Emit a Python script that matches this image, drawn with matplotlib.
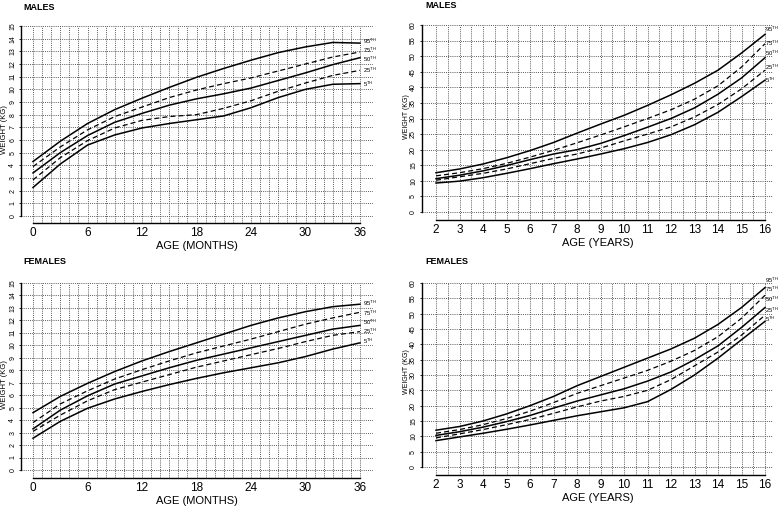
import matplotlib.pyplot as plt
import numpy as np

plt.rcParams['font.family'] = ['Liberation Sans', 'DejaVu Sans']
plt.rcParams['mathtext.fontset'] = 'custom'
plt.rcParams['mathtext.rm'] = 'Liberation Sans'

# ages
months = [0, 3, 6, 9, 12, 15, 18, 21, 24, 27, 30, 33, 36]
years = [2, 3, 4, 5, 6, 7, 8, 9, 10, 11, 12, 13, 14, 15, 16]
pct_labels = ['95', '75', '50', '25', '5']

# males, 0-36 months (kg)
m_inf_95 = [4.3, 5.9, 7.3, 8.4, 9.3, 10.15, 10.95, 11.65, 12.3, 12.9, 13.35, 13.7, 13.65]
m_inf_75 = [3.9, 5.45, 6.8, 7.85, 8.6, 9.35, 9.95, 10.45, 10.9, 11.45, 12.0, 12.55, 12.95]
m_inf_50 = [3.4, 5.0, 6.35, 7.4, 8.1, 8.75, 9.25, 9.65, 10.1, 10.7, 11.3, 11.95, 12.5]
m_inf_25 = [2.85, 4.6, 5.95, 6.95, 7.55, 7.85, 8.0, 8.5, 9.1, 9.85, 10.5, 11.1, 11.5]
m_inf_5 = [2.25, 4.1, 5.6, 6.4, 6.95, 7.3, 7.6, 7.9, 8.55, 9.35, 10.0, 10.4, 10.45]
m_inf_lab = [13.76, 13.08, 12.35, 11.5, 10.4]

# males, 2-16 years (kg)
m_ch_95 = [12.6, 13.8, 15.4, 17.4, 19.7, 22.3, 25.3, 28.2, 31.0, 34.2, 37.6, 41.3, 45.5, 51.0, 57.0]
m_ch_75 = [11.6, 12.6, 13.9, 15.6, 17.6, 19.8, 22.2, 24.7, 27.3, 30.0, 32.8, 36.2, 40.5, 46.5, 54.0]
m_ch_50 = [10.7, 11.8, 13.2, 14.9, 16.8, 18.6, 20.0, 22.0, 24.5, 27.2, 30.0, 33.4, 37.8, 43.0, 49.5]
m_ch_25 = [10.2, 11.3, 12.4, 13.8, 15.5, 17.2, 18.6, 20.5, 22.8, 25.0, 27.3, 30.5, 34.5, 39.5, 45.5]
m_ch_5 = [9.3, 9.9, 11.0, 12.4, 13.9, 15.5, 17.0, 18.6, 20.3, 22.3, 24.8, 28.0, 32.0, 37.0, 42.3]
m_ch_lab = [58.6, 54.2, 51.0, 46.5, 42.2]

# females, 0-36 months (kg)
f_inf_95 = [4.6, 5.9, 6.95, 7.9, 8.75, 9.5, 10.2, 10.9, 11.6, 12.2, 12.7, 13.1, 13.3]
f_inf_75 = [3.8, 5.3, 6.35, 7.3, 8.05, 8.75, 9.4, 9.95, 10.5, 11.1, 11.7, 12.2, 12.65]
f_inf_50 = [3.3, 4.8, 5.95, 6.9, 7.55, 8.2, 8.8, 9.3, 9.8, 10.3, 10.8, 11.3, 11.6]
f_inf_25 = [3.1, 4.4, 5.55, 6.45, 7.05, 7.65, 8.25, 8.75, 9.25, 9.75, 10.3, 10.8, 11.1]
f_inf_5 = [2.55, 3.9, 4.95, 5.7, 6.3, 6.85, 7.35, 7.8, 8.2, 8.6, 9.1, 9.7, 10.2]
f_inf_lab = [13.4, 12.6, 11.85, 11.15, 10.3]

# females, 2-16 years (kg)
f_ch_95 = [12.0, 13.2, 15.0, 17.3, 20.0, 23.0, 26.5, 29.5, 32.5, 35.5, 38.5, 42.0, 46.5, 52.0, 58.5]
f_ch_75 = [11.0, 12.2, 13.8, 15.8, 18.2, 21.0, 24.0, 26.5, 29.0, 31.5, 34.5, 38.0, 42.5, 48.5, 56.0]
f_ch_50 = [10.3, 11.5, 13.0, 14.8, 16.8, 19.2, 21.5, 23.5, 25.5, 28.0, 31.0, 35.0, 39.5, 45.5, 52.0]
f_ch_25 = [9.5, 10.8, 12.2, 13.8, 15.5, 17.5, 19.6, 21.5, 23.0, 25.0, 28.5, 33.0, 37.5, 43.0, 49.5]
f_ch_5 = [8.6, 9.8, 11.0, 12.3, 13.7, 15.2, 16.7, 18.0, 19.3, 21.3, 25.3, 30.0, 35.5, 41.5, 47.5]
f_ch_lab = [61.0, 58.0, 54.7, 51.0, 48.3]

W, H = 778, 512
fig = plt.figure(figsize=(W / 100, H / 100), dpi=100)
styles = ['-', '--', '-', '--', '-']


def place(xp, xd, yp, yd, xlim, ylim):
    # xp/yp: pixel positions of two data values xd/yd
    sx = (xp[1] - xp[0]) / (xd[1] - xd[0])
    sy = (yp[0] - yp[1]) / (yd[1] - yd[0])
    left = xp[0] + (xlim[0] - xd[0]) * sx
    right = xp[0] + (xlim[1] - xd[0]) * sx
    bottom = yp[0] - (ylim[0] - yd[0]) * sy
    top = yp[0] - (ylim[1] - yd[0]) * sy
    return fig.add_axes([left / W, 1 - bottom / H, (right - left) / W, (bottom - top) / H])


def panel(ax, x, curves, lab_y, xlim, ylim, xgrid, ygrid, xticks, xlabel, lab_dx):
    ax.set_xlim(xlim)
    ax.set_ylim(ylim)
    ax.vlines(xgrid, ylim[0], ygrid[-1], colors='0.35', linestyles=(0, (1, 1.2)), lw=0.7, zorder=1)
    ax.hlines(ygrid, xlim[0], xlim[1], colors='0.35', linestyles=(0, (1, 1.2)), lw=0.7, zorder=1)
    for vals, ls, lab, ly in zip(curves, styles, pct_labels, lab_y):
        if ls == '-':
            ax.plot(x, vals, color='black', lw=1.1, zorder=3)
        else:
            ax.plot(x, vals, color='black', lw=0.9, dashes=(4, 2.5), zorder=3)
        ax.text(x[-1] + lab_dx, ly, lab + r'$^{\rm TH}$', fontsize=4.2,
                ha='left', va='center')
    for s in ['top', 'right']:
        ax.spines[s].set_visible(False)
    ax.spines['left'].set_bounds(0, ygrid[-1])
    ax.spines['bottom'].set_bounds(xticks[0], xticks[-1])
    ax.spines['left'].set_linewidth(1.0)
    ax.spines['bottom'].set_linewidth(1.0)
    ax.set_xticks(xticks)
    ax.set_yticks(ygrid)
    ax.tick_params(axis='x', length=0, pad=3, labelsize=8.5)
    ax.tick_params(axis='y', length=1.5, width=0.6, pad=2, labelsize=5, labelrotation=90)
    for t in ax.get_yticklabels():
        t.set_va('center')
    ax.set_xlabel(xlabel, fontsize=8, labelpad=1)


def ftext(x, y, s, **kw):
    fig.text(x / W, 1 - y / H, s, **kw)


# top left: males 0-36 months
ax = place((33, 360), (0, 36), (216, 26), (0, 15), (-1.3, 37.4), (-0.55, 15.2))
panel(ax, months, [m_inf_95, m_inf_75, m_inf_50, m_inf_25, m_inf_5], m_inf_lab,
      (-1.3, 37.4), (-0.55, 15.2), np.arange(0, 37), np.arange(0, 16), np.arange(0, 37, 6),
      'AGE (MONTHS)', 0.3)
ftext(23, 7, 'MALES', fontsize=6.5, fontweight='bold', va='center')
ftext(5, 130, 'WEIGHT (KG)', fontsize=5.5, rotation=90, ha='center', va='center')

# top right: males 2-16 years
ax = place((436, 765), (2, 16), (212, 25), (0, 60), (1.4, 16.34), (-2.6, 60.8))
panel(ax, years, [m_ch_95, m_ch_75, m_ch_50, m_ch_25, m_ch_5], m_ch_lab,
      (1.4, 16.34), (-2.6, 60.8), np.arange(2, 16.01, 0.5), np.arange(0, 61, 5), np.arange(2, 17),
      'AGE (YEARS)', 0.0)
ftext(425, 6, 'MALES', fontsize=6.5, fontweight='bold', va='center')
ftext(407, 117, 'WEIGHT (KG)', fontsize=5, rotation=90, ha='center', va='center')

# bottom left: females 0-36 months
ax = place((33, 360), (0, 36), (470, 283), (0, 15), (-1.3, 37.4), (-0.64, 15.2))
panel(ax, months, [f_inf_95, f_inf_75, f_inf_50, f_inf_25, f_inf_5], f_inf_lab,
      (-1.3, 37.4), (-0.64, 15.2), np.arange(0, 37), np.arange(0, 16), np.arange(0, 37, 6),
      'AGE (MONTHS)', 0.3)
ftext(23, 262, 'FEMALES', fontsize=6.5, fontweight='bold', va='center')
ftext(5, 385, 'WEIGHT (KG)', fontsize=5.5, rotation=90, ha='center', va='center')

# bottom right: females 2-16 years
ax = place((436, 765), (2, 16), (467, 283), (0, 60), (1.4, 16.34), (-2.6, 60.8))
panel(ax, years, [f_ch_95, f_ch_75, f_ch_50, f_ch_25, f_ch_5], f_ch_lab,
      (1.4, 16.34), (-2.6, 60.8), np.arange(2, 16.01, 0.5), np.arange(0, 61, 5), np.arange(2, 17),
      'AGE (YEARS)', 0.0)
ftext(425, 262, 'FEMALES', fontsize=6.5, fontweight='bold', va='center')
ftext(407, 372, 'WEIGHT (KG)', fontsize=5, rotation=90, ha='center', va='center')

fig.savefig('out.png', dpi=100)
